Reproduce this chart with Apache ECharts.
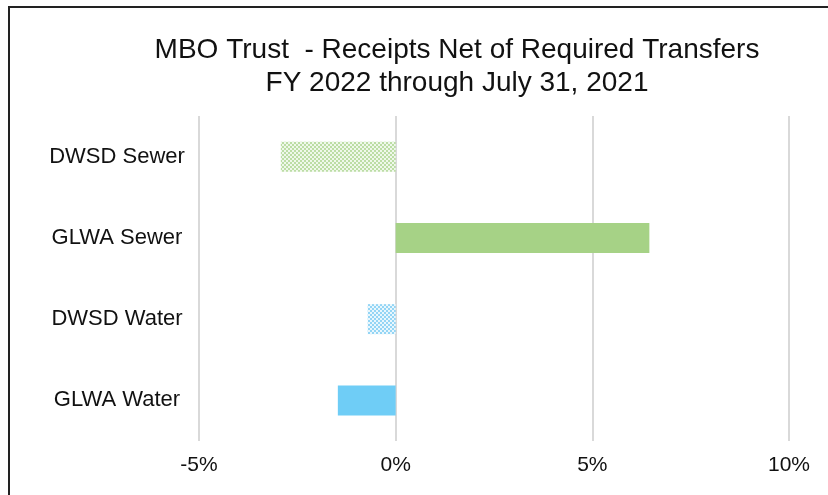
<!DOCTYPE html>
<html>
<head>
<meta charset="utf-8">
<script src="https://cdn.jsdelivr.net/npm/echarts@6/dist/echarts.min.js"></script>
<style>
html,body{margin:0;padding:0;background:#fff;}
#chart{width:828px;height:495px;}
</style>
</head>
<body>
<div id="chart"></div>
<script>
const categories = ['DWSD Sewer', 'GLWA Sewer', 'DWSD Water', 'GLWA Water'];
const values = [-2.92, 6.45, -0.71, -1.47];
const tickMin = -5, tickMax = 10, tickStep = 5;

function checker(c1, c2, s) {
  const cv = document.createElement('canvas');
  cv.width = s * 2; cv.height = s * 2;
  const ctx = cv.getContext('2d');
  ctx.fillStyle = c2; ctx.fillRect(0, 0, s * 2, s * 2);
  ctx.fillStyle = c1;
  ctx.fillRect(0, 0, s, s); ctx.fillRect(s, s, s, s);
  return cv;
}
const styles = [
  {color: {image: checker('#bcdda5', '#eff8ea', 2), repeat: 'repeat'}},
  {color: '#a6d286'},
  {color: {image: checker('#94d5f5', '#e9f7fd', 2), repeat: 'repeat'}},
  {color: '#6fcdf6'}
];

const chart = echarts.init(document.getElementById('chart'), null, {renderer: 'canvas'});
chart.setOption({
  backgroundColor: '#fff',
  animation: false,
  textStyle: {fontFamily: 'Liberation Sans, Arial, sans-serif'},
  graphic: [{
    type: 'rect', shape: {x: 9, y: 7, width: 840, height: 500},
    style: {fill: 'none', stroke: '#222', lineWidth: 2}, z: 100
  }],
  title: {
    text: 'MBO Trust  - Receipts Net of Required Transfers\nFY 2022 through July 31, 2021',
    left: 452, top: 29, textAlign: 'center',
    textStyle: {fontSize: 28, fontWeight: 'normal', color: '#111', lineHeight: 33, fontFamily: 'Liberation Sans, Arial, sans-serif'}
  },
  grid: {left: 199, right: 39, top: 116, bottom: 54},
  xAxis: {
    type: 'value', min: tickMin, max: tickMax, interval: tickStep,
    axisLine: {show: false}, axisTick: {show: false},
    splitLine: {show: true, lineStyle: {color: '#d9d9d9', width: 2}},
    axisLabel: {formatter: '{value}%', fontSize: 21, color: '#111', margin: 14}
  },
  yAxis: {
    type: 'category', data: categories, inverse: true,
    axisLine: {show: false}, axisTick: {show: false},
    axisLabel: {fontSize: 22, color: '#111', align: 'center', margin: 82}
  },
  series: [{
    type: 'bar', barWidth: 30,
    data: values.map((v, i) => ({value: v, itemStyle: styles[i]}))
  }]
});
</script>
</body>
</html>
